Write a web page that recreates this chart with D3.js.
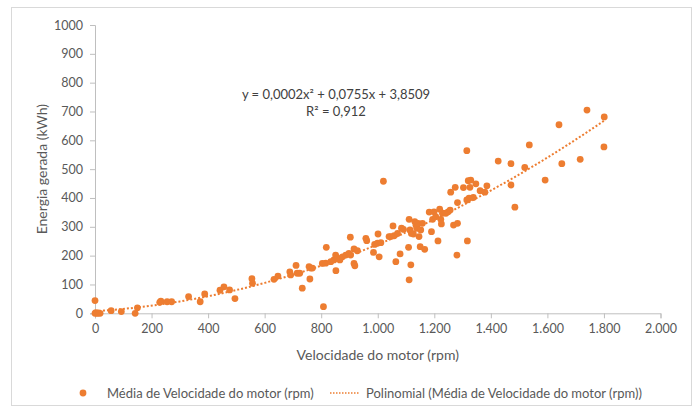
<!DOCTYPE html>
<html>
<head>
<meta charset="utf-8">
<script src="https://cdn.jsdelivr.net/npm/d3@7"></script>
<style>
  body { margin: 0; background: #fff; }
  svg text { font-family: Lato, "Open Sans", sans-serif; }
</style>
</head>
<body>
<div class="canvas"></div>
<script>
// data
const rpm = [0, 0, 3, 7, 12, 18, 57, 93, 142, 150, 229, 233, 255, 271, 331, 372, 388, 442, 456, 476, 495,
  555, 557, 633, 647, 689, 692, 711, 715, 724, 733, 757, 763, 760, 769,
  804, 808, 816, 818, 834, 845, 852, 851, 857, 866, 875, 887, 898, 904, 903, 916, 919, 916, 928,
  958, 961, 985, 989, 999, 1001, 1005, 1011, 1020,
  1040, 1046, 1054, 1058, 1064, 1070, 1079, 1084, 1091,
  1109, 1111, 1111, 1114, 1117, 1119, 1126, 1131, 1135, 1138, 1143, 1146, 1150, 1152, 1158, 1166,
  1182, 1190, 1194, 1199, 1205, 1213, 1219, 1223, 1225, 1229, 1241, 1249, 1256,
  1258, 1268, 1274, 1280, 1282, 1282, 1303, 1315, 1317, 1315, 1323, 1326, 1320, 1329, 1338, 1347, 1362, 1379, 1386,
  1426, 1471, 1471, 1485, 1520, 1536, 1592, 1641, 1651, 1716, 1740, 1801, 1800];
const energia = [44, 0, 2, 0, 1, 0, 9, 6, 0, 19, 38, 42, 40, 40, 58, 40, 67, 80, 92, 81, 51,
  120, 104, 118, 129, 144, 133, 166, 139, 139, 87, 162, 157, 119, 157,
  173, 23, 174, 229, 179, 185, 148, 202, 191, 185, 196, 202, 208, 202, 264, 173, 165, 223, 217,
  260, 252, 211, 239, 243, 275, 196, 245, 458,
  266, 266, 303, 269, 179, 277, 206, 295, 291,
  229, 326, 116, 289, 168, 277, 275, 318, 306, 295, 312, 266, 231, 289, 312, 222,
  351, 283, 326, 352, 335, 251, 361, 326, 310, 347, 347, 352, 358,
  420, 306, 437, 202, 312, 384, 436, 564, 251, 393, 399, 437, 460, 462, 402, 449, 425, 420, 442,
  528, 445, 519, 368, 506, 584, 462, 654, 519, 534, 705, 681, 577];

const xTicks = [0, 200, 400, 600, 800, 1000, 1200, 1400, 1600, 1800, 2000];
const yTicks = [0, 100, 200, 300, 400, 500, 600, 700, 800, 900, 1000];
const equationText = ['y = 0,0002x² + 0,0755x + 3,8509', 'R² = 0,912'];
const legendLabels = ['Média de Velocidade do motor (rpm)', 'Polinomial (Média de Velocidade do motor (rpm))'];

const width = 698, height = 410;
const margin = { top: 25, right: 37.5, bottom: 96.7, left: 95 };
const graphWidth = width - margin.left - margin.right;
const graphHeight = height - margin.top - margin.bottom;
const orange = '#ed7d31';

const svg = d3.select('.canvas')
    .append('svg')
    .attr('width', width)
    .attr('height', height);

// chart border
svg.append('rect')
    .attr('x', 11.5).attr('y', 7.5)
    .attr('width', 680).attr('height', 398)
    .attr('fill', '#fff')
    .attr('stroke', '#d9d9d9');

const graph = svg.append('g')
    .attr('transform', `translate(${margin.left}, ${margin.top})`);

// scales
const x = d3.scaleLinear().domain([0, 2000]).range([0, graphWidth]);
const y = d3.scaleLinear().domain([0, 1000]).range([graphHeight, 0]);

const ptBR = d3.formatLocale({ decimal: ',', thousands: '.', grouping: [3], currency: ['R$', ''] });

// axes
const xAxis = d3.axisBottom(x).tickValues(xTicks).tickSize(5).tickPadding(6)
    .tickFormat(ptBR.format(',d'));
const yAxis = d3.axisLeft(y).tickValues(yTicks).tickSize(5).tickPadding(7)
    .tickFormat(d3.format('d'));

const xAxisGroup = graph.append('g')
    .attr('transform', `translate(0, ${graphHeight})`)
    .call(xAxis);
const yAxisGroup = graph.append('g').call(yAxis);

[xAxisGroup, yAxisGroup].forEach(g => {
    g.select('.domain').attr('stroke', '#bfbfbf');
    g.selectAll('.tick line').attr('stroke', '#bfbfbf');
    g.selectAll('.tick text')
        .attr('fill', '#595959')
        .style('font-size', '12.5px');
});

// axis titles
svg.append('text')
    .attr('x', margin.left + graphWidth / 2)
    .attr('y', 360)
    .attr('text-anchor', 'middle')
    .attr('fill', '#595959')
    .style('font-size', '14px')
    .text('Velocidade do motor (rpm)');

svg.append('text')
    .attr('transform', `translate(47, ${margin.top + graphHeight / 2}) rotate(-90)`)
    .attr('text-anchor', 'middle')
    .attr('fill', '#595959')
    .style('font-size', '14px')
    .text('Energia gerada (kWh)');

// polynomial trendline (least squares, degree 2) from the points
const fitQuad = (xs, ys) => {
    let s = [0, 0, 0, 0, 0], t = [0, 0, 0];
    xs.forEach((xv, i) => {
        let p = 1;
        for (let k = 0; k < 5; k++) { s[k] += p; if (k < 3) t[k] += p * ys[i]; p *= xv; }
    });
    const A = [[s[0], s[1], s[2], t[0]], [s[1], s[2], s[3], t[1]], [s[2], s[3], s[4], t[2]]];
    for (let i = 0; i < 3; i++) {
        for (let j = i + 1; j < 3; j++) {
            const f = A[j][i] / A[i][i];
            for (let k = i; k < 4; k++) A[j][k] -= f * A[i][k];
        }
    }
    const c = [0, 0, 0];
    for (let i = 2; i >= 0; i--) {
        let v = A[i][3];
        for (let k = i + 1; k < 3; k++) v -= A[i][k] * c[k];
        c[i] = v / A[i][i];
    }
    return c; // c0 + c1 x + c2 x^2
};
const coef = fitQuad(rpm, energia);
const xMin = d3.min(rpm), xMax = d3.max(rpm);
const trendX = d3.range(0, 61).map(i => xMin + (xMax - xMin) * i / 60);

const line = d3.line()
    .x(d => x(d))
    .y(d => y(coef[0] + coef[1] * d + coef[2] * d * d));

graph.append('path')
    .datum(trendX)
    .attr('fill', 'none')
    .attr('stroke', orange)
    .attr('stroke-width', 2)
    .attr('stroke-dasharray', '2,2')
    .attr('d', line);

// points
graph.selectAll('circle')
    .data(rpm.map((d, i) => ({ rpm: d, energia: energia[i] })))
    .enter()
    .append('circle')
    .attr('cx', d => x(d.rpm))
    .attr('cy', d => y(d.energia))
    .attr('r', 3.4)
    .attr('fill', orange);

// equation label
const eq = svg.append('text')
    .attr('text-anchor', 'middle')
    .attr('fill', '#404040')
    .style('font-size', '13px');
eq.append('tspan').attr('x', 336).attr('y', 99).text(equationText[0]);
eq.append('tspan').attr('x', 336).attr('y', 116).text(equationText[1]);

// legend
const legend = svg.append('g').attr('transform', 'translate(0, 393)');
legend.append('circle').attr('cx', 83).attr('cy', 0).attr('r', 3.4).attr('fill', orange);
legend.append('text').attr('x', 107).attr('y', 4.5)
    .attr('fill', '#595959').style('font-size', '13px')
    .text(legendLabels[0]);
legend.append('line')
    .attr('x1', 330).attr('x2', 360).attr('y1', 0).attr('y2', 0)
    .attr('stroke', orange).attr('stroke-width', 1.5).attr('stroke-dasharray', '1.5,1.5');
legend.append('text').attr('x', 366).attr('y', 4.5)
    .attr('fill', '#595959').style('font-size', '13px')
    .text(legendLabels[1]);
</script>
</body>
</html>
